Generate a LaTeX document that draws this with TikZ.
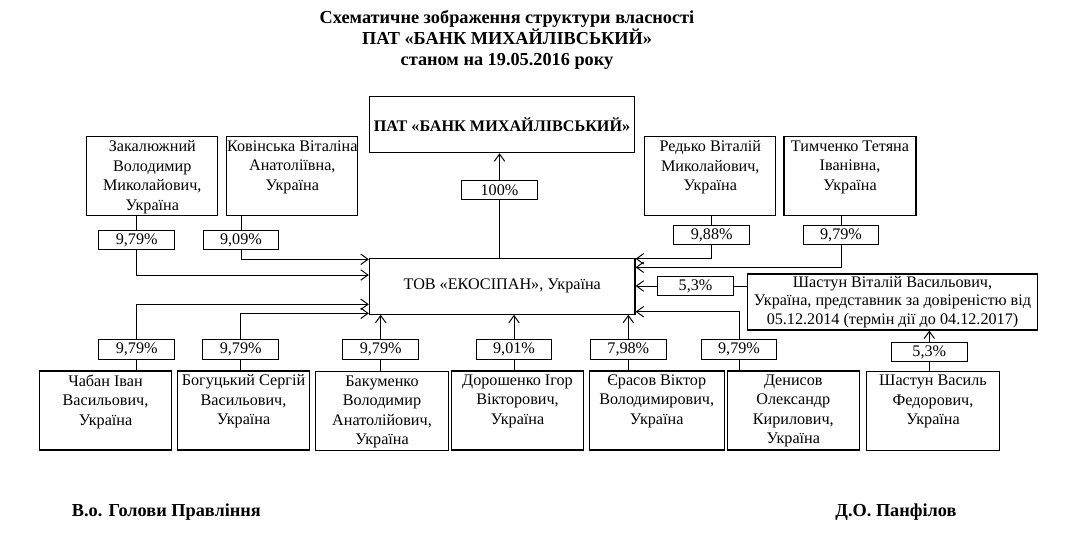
\documentclass[tikz,border=0pt]{standalone}
\usepackage{fontspec}
\setmainfont{Liberation Serif}
\usepackage{tikz}
\usetikzlibrary{arrows.meta,positioning,calc}
\newcommand{\zvh}[2][3.3cm]{\parbox[c][1.975cm][t]{#1}{\centering\vspace{2.6pt}#2}}
\tikzset{
  osoba/.style   = {draw, line width=0.8pt, inner sep=0pt,
                    font=\fontsize{11.5}{13.9}\selectfont},
  holovna/.style = {draw, line width=0.8pt, align=center, inner sep=0pt,
                    minimum width=6.64cm, minimum height=1.4cm},
  chastka/.style = {draw, line width=0.8pt, inner sep=0pt,
                    minimum width=1.89cm, minimum height=0.49cm,
                    font=\fontsize{11.5}{13.3}\selectfont},
  dovir/.style   = {draw, line width=0.8pt, align=center, inner sep=0pt,
                    minimum width=7.24cm, minimum height=1.4cm,
                    font=\fontsize{11.5}{13.3}\selectfont},
  liniya/.style  = {line width=0.7pt},
  strilka/.style = {-{Straight Barb[length=1.8mm,width=2.6mm]}, line width=0.7pt},
  napys/.style   = {font=\fontsize{13}{15}\selectfont\bfseries, align=center, inner sep=0pt},
}

\begin{document}
\begin{tikzpicture}[x=0.025cm, y=-0.025cm]
  \useasboundingbox (0,0) rectangle (1075,539);
  \node[napys] (titul) at (507,40) {Схематичне зображення структури власності\\ПАТ «БАНК МИХАЙЛІВСЬКИЙ»\\станом на 19.05.2016 року};
  \node[holovna, font=\fontsize{11.5}{13.3}\selectfont\bfseries] (bank) at (502,124.7) {ПАТ «БАНК МИХАЙЛІВСЬКИЙ»};
  \node[holovna, font=\fontsize{11.5}{13.3}\selectfont] (tov) at (502.2,286.2) {ТОВ «ЕКОСІПАН», Україна};
  \node[chastka] (p100) at (499.5,190) {100\%};
  \draw[liniya] (tov.north -| p100) -- (p100.south);
  \draw[strilka] (p100.north) -- (bank.south -| p100);

  \node[osoba] (zak) at (152.3,176.3) {\zvh[3.28cm]{Закалюжний\\Володимир\\Миколайович,\\Україна}};
  \node[osoba] (kov) at (292.3,176.3) {\zvh[3.28cm]{Ковінська Віталіна\\Анатоліївна,\\Україна}};
  \node[osoba] (red) at (710.3,176.3) {\zvh[3.27cm]{Редько Віталій\\Миколайович,\\Україна}};
  \node[osoba] (tym) at (850,176.3) {\zvh{Тимченко Тетяна\\Іванівна,\\Україна}};
  \node[osoba] (chab) at (105.5,410.5) {\zvh[3.31cm]{Чабан Іван\\Васильович,\\Україна}};
  \node[osoba] (boh) at (243.5,410.5) {\zvh[3.29cm]{Богуцький Сергій\\Васильович,\\Україна}};
  \node[osoba] (bak) at (382,411.3) {\zvh[3.31cm]{Бакуменко\\Володимир\\Анатолійович,\\Україна}};
  \node[osoba] (dor) at (517.5,410.5) {\zvh[3.29cm]{Дорошенко Ігор\\Вікторович,\\Україна}};
  \node[osoba] (yer) at (656.7,410.5) {\zvh[3.38cm]{Єрасов Віктор\\Володимирович,\\Україна}};
  \node[osoba] (den) at (793.3,410.5) {\zvh{Денисов\\Олександр\\Кирилович,\\Україна}};
  \node[osoba] (shv) at (933,410.8) {\zvh[3.31cm]{Шастун Василь\\Федорович,\\Україна}};
  \node[dovir] (shvit) at (892.5,302) {Шастун Віталій Васильович,\\Україна, представник за довіреністю від\\05.12.2014 (термін дії до 04.12.2017)};

  \node[chastka] (pzak) at (136.7,240) {9,79\%};
  \node[chastka] (pkov) at (241,240) {9,09\%};
  \node[chastka] (pred) at (711.7,235) {9,88\%};
  \node[chastka] (ptym) at (841,235) {9,79\%};
  \node[chastka] (p53) at (695.5,286) {5,3\%};
  \node[chastka] (pchab) at (136.7,349.7) {9,79\%};
  \node[chastka] (pboh) at (240.7,349.7) {9,79\%};
  \node[chastka] (pbak) at (380.7,349.7) {9,79\%};
  \node[chastka] (pdor) at (514,349.7) {9,01\%};
  \node[chastka] (pyer) at (628.3,349.7) {7,98\%};
  \node[chastka] (pden) at (739,349.7) {9,79\%};
  \node[chastka] (pshv) at (929.3,352) {5,3\%};

  \coordinate (vKov) at (tov.west |- 0,259.3);
  \coordinate (vZak) at (tov.west |- 0,275);
  \coordinate (vChab) at (tov.west |- 0,304.3);
  \coordinate (vBoh) at (tov.west |- 0,313.3);
  \coordinate (vRed) at (tov.east |- 0,258.8);
  \coordinate (vTym) at (tov.east |- 0,267.3);
  \coordinate (vDen) at (tov.east |- 0,311.7);

  \draw[liniya] (pzak.north) -- (pzak.north |- zak.south);
  \draw[strilka] (pzak.south) |- (vZak);
  \draw[liniya] (pkov.north) -- (pkov.north |- kov.south);
  \draw[strilka] (pkov.south) |- (vKov);
  \draw[liniya] (pred.north) -- (pred.north |- red.south);
  \draw[strilka] (pred.south) |- (vRed);
  \draw[liniya] (ptym.north) -- (ptym.north |- tym.south);
  \draw[strilka] (ptym.south) |- (vTym);
  \draw[liniya] (shvit.west |- p53.east) -- (p53.east);
  \draw[strilka] (p53.west) -- (p53.west -| tov.east);

  \draw[liniya] (pchab.south) -- (pchab.south |- chab.north);
  \draw[strilka] (pchab.north) |- (vChab);
  \draw[liniya] (pboh.south) -- (pboh.south |- boh.north);
  \draw[strilka] (pboh.north) |- (vBoh);
  \draw[liniya] (pbak.south) -- (pbak.south |- bak.north);
  \draw[strilka] (pbak.north) -- (pbak.north |- tov.south);
  \draw[liniya] (pdor.south) -- (pdor.south |- dor.north);
  \draw[strilka] (pdor.north) -- (pdor.north |- tov.south);
  \draw[liniya] (pyer.south) -- (pyer.south |- yer.north);
  \draw[strilka] (pyer.north) -- (pyer.north |- tov.south);
  \draw[liniya] (pden.south) -- (pden.south |- den.north);
  \draw[strilka] (pden.north) |- (vDen);
  \draw[liniya] (pshv.south) -- (pshv.south |- shv.north);
  \draw[strilka] (pshv.north) -- (pshv.north |- shvit.south);

  \node[napys, anchor=west] (vo) at (71.7,511.7) {В.о. Голови Правління};
  \node[napys, anchor=east] (panf) at (956.7,511.7) {Д.О. Панфілов};
\end{tikzpicture}
\end{document}
